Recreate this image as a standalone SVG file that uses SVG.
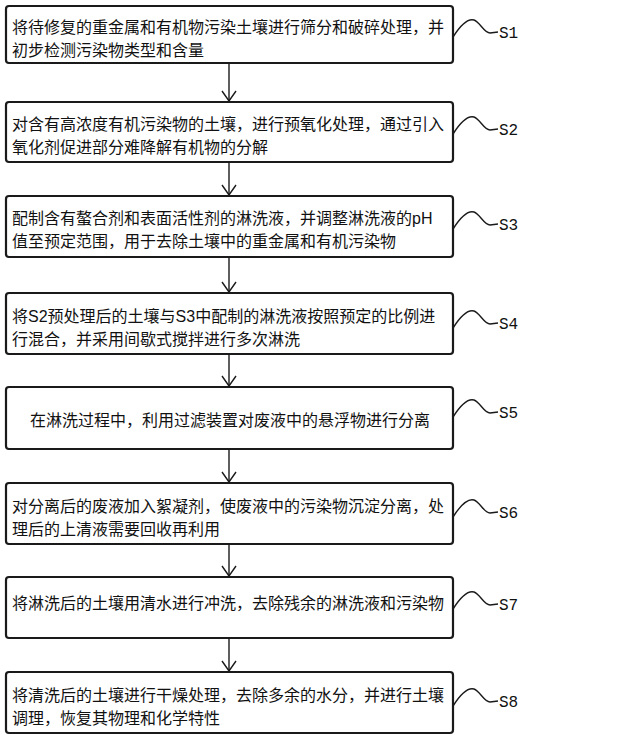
<svg xmlns="http://www.w3.org/2000/svg" width="640" height="740" viewBox="0 0 640 740">
<style>
.box{fill:#fff;stroke:#1a1a1a;stroke-width:2.2}
.t{font-family:"Liberation Sans","Noto Sans CJK SC",sans-serif;font-size:16px;fill:#111}
.lbl{font-family:"Liberation Mono","DejaVu Sans Mono",monospace;font-size:16px;fill:#111}
.w{fill:none;stroke:#1a1a1a;stroke-width:1.4}
.c{fill:none;stroke:#1a1a1a;stroke-width:1.4}
</style>
<defs>
<marker id="ah" markerWidth="12" markerHeight="16" refX="11" refY="8" orient="auto" markerUnits="userSpaceOnUse" viewBox="0 0 12 16">
<polyline points="1,1 11,8 1,15" fill="none" stroke="#1a1a1a" stroke-width="1.4"/>
</marker>
</defs>
<rect width="640" height="740" fill="#fff"/>
<g id="connectors">
<line class="c" x1="229" y1="63" x2="229" y2="101" marker-end="url(#ah)"/>
<line class="c" x1="229" y1="162" x2="229" y2="195" marker-end="url(#ah)"/>
<line class="c" x1="229" y1="257" x2="229" y2="292" marker-end="url(#ah)"/>
<line class="c" x1="229" y1="354" x2="229" y2="386" marker-end="url(#ah)"/>
<line class="c" x1="229" y1="449" x2="229" y2="482" marker-end="url(#ah)"/>
<line class="c" x1="229" y1="544" x2="229" y2="576" marker-end="url(#ah)"/>
<line class="c" x1="229" y1="638" x2="229" y2="671" marker-end="url(#ah)"/>
</g>
<g id="S1">
<rect class="box" x="6" y="6" width="447" height="57" rx="3"/>
<text class="t" x="12" y="33">将待修复的重金属和有机物污染土壤进行筛分和破碎处理，并</text>
<text class="t" x="12" y="56">初步检测污染物类型和含量</text>
<path class="w" d="M453,37 C460,26 467,18 474,20 C480,22 484,33 490,33 L498,32"/>
<text class="lbl" x="499" y="38">S1</text>
</g>
<g id="S2">
<rect class="box" x="6" y="102" width="447" height="60" rx="3"/>
<text class="t" x="12" y="130">对含有高浓度有机污染物的土壤，进行预氧化处理，通过引入</text>
<text class="t" x="12" y="153">氧化剂促进部分难降解有机物的分解</text>
<path class="w" d="M453,134 C460,123 467,115 474,117 C480,119 484,130 490,130 L498,129"/>
<text class="lbl" x="499" y="135">S2</text>
</g>
<g id="S3">
<rect class="box" x="6" y="196" width="447" height="61" rx="3"/>
<text class="t" x="12" y="224">配制含有螯合剂和表面活性剂的淋洗液，并调整淋洗液的pH</text>
<text class="t" x="12" y="247">值至预定范围，用于去除土壤中的重金属和有机污染物</text>
<path class="w" d="M453,229 C460,218 467,210 474,212 C480,214 484,225 490,225 L498,224"/>
<text class="lbl" x="499" y="230">S3</text>
</g>
<g id="S4">
<rect class="box" x="6" y="293" width="447" height="61" rx="3"/>
<text class="t" x="12" y="322">将S2预处理后的土壤与S3中配制的淋洗液按照预定的比例进</text>
<text class="t" x="12" y="345">行混合，并采用间歇式搅拌进行多次淋洗</text>
<path class="w" d="M453,328 C460,317 467,309 474,311 C480,313 484,324 490,324 L498,323"/>
<text class="lbl" x="499" y="329">S4</text>
</g>
<g id="S5">
<rect class="box" x="6" y="387" width="447" height="62" rx="3"/>
<text class="t" x="230" y="426" text-anchor="middle">在淋洗过程中，利用过滤装置对废液中的悬浮物进行分离</text>
<path class="w" d="M453,417 C460,406 467,398 474,400 C480,402 484,413 490,413 L498,412"/>
<text class="lbl" x="499" y="418">S5</text>
</g>
<g id="S6">
<rect class="box" x="6" y="483" width="447" height="61" rx="3"/>
<text class="t" x="12" y="512">对分离后的废液加入絮凝剂，使废液中的污染物沉淀分离，处</text>
<text class="t" x="12" y="535">理后的上清液需要回收再利用</text>
<path class="w" d="M453,517 C460,506 467,498 474,500 C480,502 484,513 490,513 L498,512"/>
<text class="lbl" x="499" y="518">S6</text>
</g>
<g id="S7">
<rect class="box" x="6" y="577" width="447" height="61" rx="3"/>
<text class="t" x="12" y="609">将淋洗后的土壤用清水进行冲洗，去除残余的淋洗液和污染物</text>
<path class="w" d="M453,609 C460,598 467,590 474,592 C480,594 484,605 490,605 L498,604"/>
<text class="lbl" x="499" y="610">S7</text>
</g>
<g id="S8">
<rect class="box" x="6" y="672" width="447" height="61" rx="3"/>
<text class="t" x="12" y="701">将清洗后的土壤进行干燥处理，去除多余的水分，并进行土壤</text>
<text class="t" x="12" y="724">调理，恢复其物理和化学特性</text>
<path class="w" d="M453,706 C460,695 467,687 474,689 C480,691 484,702 490,702 L498,701"/>
<text class="lbl" x="499" y="707">S8</text>
</g>
</svg>
